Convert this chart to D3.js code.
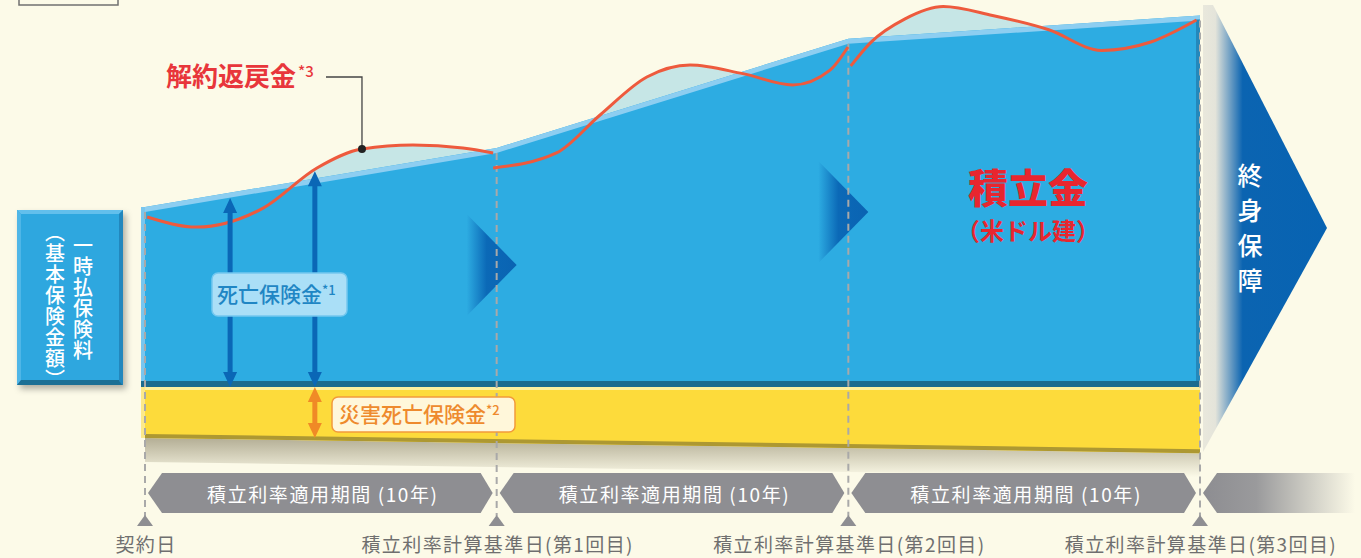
<!DOCTYPE html>
<html>
<head>
<meta charset="utf-8">
<script src="https://cdn.jsdelivr.net/npm/d3@7"></script>
<style>
  body { margin: 0; background: #fcfae8; }
  svg { display: block; font-family: "Noto Sans CJK JP", "Noto Sans", sans-serif; }
</style>
</head>
<body>
<svg id="chart"></svg>
<script>
// ---- data ----
const years = [0, 10, 20, 30]
const milestoneLabels = ["契約日", "積立利率計算基準日(第1回目)", "積立利率計算基準日(第2回目)", "積立利率計算基準日(第3回目)"]
const periodLabel = "積立利率適用期間 (10年)"
const fundValues = [100, 133, 194, 207]          // 積立金 (top of blue block)
const disasterYears = [0, 30]
const disasterValues = [-29, -37.5]              // bottom of yellow band
// 解約返戻金, one array per 10-year period: [year, value]
const surrender1 = [[0.06, 94.4], [1.48, 88.8], [3.36, 99.4], [4.89, 121.8], [6.17, 132.4], [7.62, 134.6], [9.04, 132.9], [9.9, 130.2]]
const surrender2 = [[9.9, 121.8], [11.7, 130.2], [12.94, 151.4], [14.27, 172.6], [15.5, 179.3], [17.0, 174.5], [18.42, 168.2], [19.48, 176.5], [19.99, 189.4]]
const surrender3 = [[20.07, 178.8], [20.64, 192], [21.6, 205], [22.7, 212], [24.1, 207], [25.7, 199], [27.2, 187.5], [28.6, 192.2], [29.9, 204.5]]
const deathArrows = [[2.42, 105], [4.83, 120]]   // 死亡保険金 arrows [year, value]
const disasterArrow = [4.83, -29]

const W = 1361, H = 558
const svg = d3.select("#chart").attr("width", W).attr("height", H)
svg.append("rect").attr("width", W).attr("height", H).attr("fill", "#fcfae8")

const xScale = d3.scaleLinear().domain([0, 30]).range([145, 1200])
const yScale = d3.scaleLinear().domain([0, 100]).range([386, 207])

const defs = svg.append("defs")
const grad = (id, stops, x2 = "100%", y2 = "0%") => {
    const g = defs.append("linearGradient").attr("id", id)
        .attr("x1", "0%").attr("y1", "0%").attr("x2", x2).attr("y2", y2)
    stops.forEach(s => g.append("stop").attr("offset", s[0]).attr("stop-color", s[1]).attr("stop-opacity", s[2] == null ? 1 : s[2]))
}
grad("triGrad", [[0, "#2dace2"], [0.4, "#0b69b7"], [1, "#0a63b2"]])
grad("bigArrow", [[0, "#e9e8dc"], [0.1, "#e4e4da"], [0.32, "#0b64b1"], [1, "#0763b2"]])
grad("lastBand", [[0, "#8d8d91"], [0.35, "#9a9a9c"], [1, "#fcfae8"]])
grad("shadow", [[0, "#6b6242", 0.5], [1, "#6b6242", 0]], "0%", "100%")
defs.append("filter").attr("id", "drop").attr("x", "-20%").attr("y", "-20%").attr("width", "150%").attr("height", "150%")
    .append("feDropShadow").attr("dx", 3).attr("dy", 4).attr("stdDeviation", 3).attr("flood-color", "#000").attr("flood-opacity", 0.3)

// partial frame at the very top left
svg.append("rect").attr("x", 19).attr("y", -20).attr("width", 99).attr("height", 25)
    .attr("fill", "none").attr("stroke", "#707070").attr("stroke-width", 1.5)

//**** BIG RIGHT ARROW (終身保障) ****/
const tipY = 228
svg.append("polygon")
    .attr("points", [[1203, 5], [1213, 5], [1327, tipY], [1203, 452]].join(" "))
    .attr("fill", "url(#bigArrow)")

// vertical Japanese text
const verticalText = (str, x, y, size, spacing) =>
    svg.append("text").attr("x", x).attr("y", y)
        .style("writing-mode", "vertical-rl")
        .attr("font-size", size).attr("font-weight", 500).attr("letter-spacing", spacing)
        .attr("fill", "white").text(str)

verticalText("終身保障", 1250, 163, 25, 10)

//**** YELLOW BAND (災害死亡保険金) ****/
const disasterData = disasterYears.map((y, i) => ({ year: y, value: disasterValues[i] }))
const yb0 = yScale(disasterValues[0]), yb1 = yScale(disasterValues[1])
svg.append("polygon")
    .attr("points", [[145, yb0], [1200, yb1], [1200, yb1 + 24], [145, yb0 + 24]].join(" "))
    .attr("fill", "url(#shadow)")
svg.append("path")
    .datum(disasterData)
    .attr("d", d3.area().x(d => xScale(d.year)).y0(yScale(0)).y1(d => yScale(d.value)))
    .attr("fill", "#fddb3b")
svg.append("path")
    .datum(disasterData)
    .attr("d", d3.area().x(d => xScale(d.year)).y0(d => yScale(d.value) - 4).y1(d => yScale(d.value)))
    .attr("fill", "#ad9832")
svg.append("rect").attr("x", 145).attr("y", 387).attr("width", 1055).attr("height", 3).attr("fill", "#fff0a0")
svg.append("rect").attr("x", 141).attr("y", 387).attr("width", 4).attr("height", yb0 - 387).attr("fill", "#fde98a")

//**** LIGHT FILL BETWEEN 解約返戻金 AND 積立金 ****/
const surrenderSegs = [surrender1, surrender2, surrender3]
const redArea = d3.area().x(d => xScale(d[0])).y0(yScale(0)).y1(d => yScale(d[1])).curve(d3.curveMonotoneX)
svg.selectAll(".cyan").data(surrenderSegs).enter().append("path")
    .attr("d", redArea).attr("fill", "#c6e6e6")

//**** BLUE BLOCK (積立金) ****/
const fundData = years.map((y, i) => ({ year: y, value: fundValues[i] }))
svg.append("path")
    .datum(fundData)
    .attr("d", d3.area().x(d => xScale(d.year)).y0(yScale(0)).y1(d => yScale(d.value)))
    .attr("fill", "#2dace2")
svg.append("path")
    .datum(fundData)
    .attr("d", d3.area().x(d => xScale(d.year)).y0(d => yScale(d.value) + 5).y1(d => yScale(d.value)))
    .attr("fill", "#8dcef1")
svg.append("rect").attr("x", 141).attr("y", yScale(fundValues[0])).attr("width", 4)
    .attr("height", yScale(0) - yScale(fundValues[0])).attr("fill", "#79c6ee")
svg.append("rect").attr("x", 1196).attr("y", yScale(fundValues[3]) + 4).attr("width", 4)
    .attr("height", yScale(0) - yScale(fundValues[3]) - 4).attr("fill", "#2488bb")
svg.append("rect").attr("x", 141).attr("y", 381).attr("width", 1059).attr("height", 6).attr("fill", "#1d6b8e")

// inner dark triangles at the start of each new period
const triYears = [[10, 265], [20, 212]]
svg.selectAll(".tri").data(triYears).enter().append("polygon")
    .attr("points", d => {
        const x = xScale(d[0])
        return [[x - 30, d[1] - 51], [x + 20, d[1]], [x - 30, d[1] + 51]].join(" ")
    })
    .attr("fill", "url(#triGrad)")

//**** DASHED MILESTONE LINES ****/
svg.selectAll(".dash").data(fundData).enter().append("line")
    .attr("x1", d => xScale(d.year)).attr("x2", d => xScale(d.year))
    .attr("y1", d => yScale(d.value) + 5).attr("y2", 516)
    .attr("stroke", "#a9a9a9").attr("stroke-width", 2).attr("stroke-dasharray", "7,5")

//**** RED LINE (解約返戻金) ****/
const redLine = d3.line().x(d => xScale(d[0])).y(d => yScale(d[1])).curve(d3.curveMonotoneX)
svg.selectAll(".red").data(surrenderSegs).enter().append("path")
    .attr("d", redLine).attr("fill", "none")
    .attr("stroke", "#ee5a3d").attr("stroke-width", 3)

//**** ARROWS ****/
const doubleArrow = (x, y1, y2, color) => {
    const h = 15, w = 7, s = 2.5
    return svg.append("path")
        .attr("d", `M${x},${y1} L${x + w},${y1 + h} L${x + s},${y1 + h} L${x + s},${y2 - h} L${x + w},${y2 - h}
                    L${x},${y2} L${x - w},${y2 - h} L${x - s},${y2 - h} L${x - s},${y1 + h} L${x - w},${y1 + h} Z`)
        .attr("fill", color)
}
deathArrows.forEach(d => doubleArrow(xScale(d[0]), yScale(d[1]), yScale(0) + 1, "#0a67b6"))
doubleArrow(xScale(disasterArrow[0]), yScale(0) + 1, yScale(disasterArrow[1]), "#f08a26")

//**** LABEL BOXES ****/
const death = svg.append("g")
death.append("rect").attr("x", 212).attr("y", 273).attr("width", 135).attr("height", 43).attr("rx", 6)
    .attr("fill", "#aadff7").attr("stroke", "#74c8ef").attr("stroke-width", 1.5)
death.append("text").attr("x", 217).attr("y", 302).attr("font-size", 21).attr("font-weight", 500)
    .attr("fill", "#1f86c4").text("死亡保険金")
    .append("tspan").attr("font-size", 13).attr("dy", -7).text("*1")

const disaster = svg.append("g")
disaster.append("rect").attr("x", 332).attr("y", 397).attr("width", 183).attr("height", 35).attr("rx", 6)
    .attr("fill", "#fff7da").attr("stroke", "#f29a3b").attr("stroke-width", 1.5)
disaster.append("text").attr("x", 339).attr("y", 422).attr("font-size", 21).attr("font-weight", 500)
    .attr("fill", "#ee8a2d").text("災害死亡保険金")
    .append("tspan").attr("font-size", 13).attr("dy", -7).text("*2")

// 解約返戻金 title + leader line
const dot = surrender1[4]
svg.append("path")
    .attr("d", `M326,77 H${xScale(dot[0])} V${yScale(dot[1])}`)
    .attr("fill", "none").attr("stroke", "#444").attr("stroke-width", 1.3)
svg.append("circle").attr("cx", xScale(dot[0])).attr("cy", yScale(dot[1])).attr("r", 4).attr("fill", "#222")
svg.append("text").attr("x", 166).attr("y", 86).attr("font-size", 26).attr("font-weight", 700)
    .attr("fill", "#e8363b").text("解約返戻金")
    .append("tspan").attr("font-size", 15).attr("font-weight", 500).attr("dy", -9).attr("dx", 2).text("*3")

// 積立金 (米ドル建)
svg.append("text").attr("x", 1028).attr("y", 203).attr("text-anchor", "middle")
    .attr("font-size", 40).attr("font-weight", 900).attr("fill", "#e8262f").text("積立金")
svg.append("text").attr("x", 1028).attr("y", 240).attr("text-anchor", "middle")
    .attr("font-size", 24).attr("font-weight", 700).attr("fill", "#e8262f").text("（米ドル建）")

//**** LEFT BOX (一時払保険料) ****/
const box = { x: 17, y: 210, w: 106, h: 175, b: 4 }
const lb = svg.append("g").attr("filter", "url(#drop)")
lb.append("rect").attr("x", box.x).attr("y", box.y).attr("width", box.w).attr("height", box.h).attr("fill", "#2ea7df")
const bx2 = box.x + box.w, by2 = box.y + box.h, b = box.b
lb.append("polygon").attr("points", [[box.x, box.y], [bx2, box.y], [bx2 - b, box.y + b], [box.x + b, box.y + b]].join(" ")).attr("fill", "#62bfec")
lb.append("polygon").attr("points", [[box.x, box.y], [box.x + b, box.y + b], [box.x + b, by2 - b], [box.x, by2]].join(" ")).attr("fill", "#50b6e7")
lb.append("polygon").attr("points", [[box.x, by2], [bx2, by2], [bx2 - b, by2 - b - 1], [box.x + b, by2 - b - 1]].join(" ")).attr("fill", "#1e6f95")
lb.append("polygon").attr("points", [[bx2, box.y], [bx2, by2], [bx2 - b, by2 - b], [bx2 - b, box.y + b]].join(" ")).attr("fill", "#2387bd")

verticalText("一時払保険料", 83, 235, 20, 1)
verticalText("（基本保険金額）", 55, 222, 20, 1)

//**** BOTTOM TIMELINE ****/
const bandTop = 473, bandBot = 513, bandMid = 493
const periods = d3.pairs(years)
svg.selectAll(".band").data(periods).enter().append("polygon")
    .attr("points", d => {
        const x0 = xScale(d[0]) + 3, x1 = xScale(d[1]) - 4
        return [[x0, bandMid], [x0 + 14, bandTop], [x1 - 12, bandTop], [x1, bandMid], [x1 - 12, bandBot], [x0 + 14, bandBot]].join(" ")
    })
    .attr("fill", "#8e8e92")
svg.selectAll(".bandText").data(periods).enter().append("text")
    .attr("x", d => (xScale(d[0]) + xScale(d[1])) / 2 + 2).attr("y", bandMid)
    .attr("text-anchor", "middle").attr("dominant-baseline", "central")
    .attr("font-size", 19).attr("letter-spacing", 1.6).attr("fill", "white").text(periodLabel)
const xl = xScale(30) + 3
svg.append("polygon")
    .attr("points", [[xl, bandMid], [xl + 14, bandTop], [1355, bandTop], [1355, bandBot], [xl + 14, bandBot]].join(" "))
    .attr("fill", "url(#lastBand)")

svg.selectAll(".mark").data(years).enter().append("polygon")
    .attr("points", d => {
        const x = xScale(d)
        return [[x, 515], [x + 8, 526], [x - 8, 526]].join(" ")
    })
    .attr("fill", "#8e8e92")
svg.selectAll(".mlabel").data(milestoneLabels).enter().append("text")
    .attr("x", (d, i) => xScale(years[i]) + 1).attr("y", 552)
    .attr("text-anchor", "middle").attr("font-size", 19).attr("letter-spacing", 1.4)
    .attr("fill", "#6f6f6f").text(d => d)
</script>
</body>
</html>
